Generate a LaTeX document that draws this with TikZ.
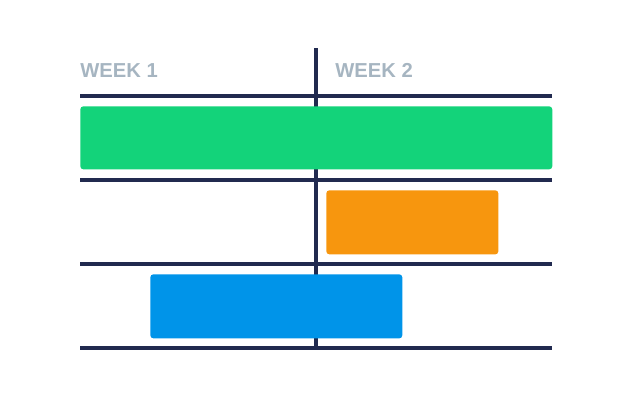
\documentclass[tikz,border=0pt]{standalone}
\usepackage{fontspec}
\setmainfont{Liberation Sans}
\definecolor{gridline}{HTML}{212A4F}
\definecolor{weektext}{HTML}{A6B5C1}
\definecolor{taskgreen}{HTML}{13D37A}
\definecolor{taskorange}{HTML}{F7960E}
\definecolor{taskblue}{HTML}{0094E9}
\tikzset{
  grid/.style={gridline, line width=2pt},
  week/.style={anchor=base west, inner sep=0pt, text=weektext, font=\bfseries\fontsize{11.5}{12}\selectfont},
  task/.style={anchor=north west, inner sep=0pt, rounded corners=1.7pt}
}

\begin{document}
\begin{tikzpicture}[x=0.02cm, y=-0.02cm]
\useasboundingbox (0,0) rectangle (630,400);
\coordinate (T) at (316,48);
\coordinate (B) at (316,348);
\coordinate (L1) at (80,96);   \coordinate (R1) at (552,96);
\coordinate (L2) at (80,180);  \coordinate (R2) at (552,180);
\coordinate (L3) at (80,264);  \coordinate (R3) at (552,264);
\coordinate (L4) at (80,348);  \coordinate (R4) at (552,348);
\node [week] (w1) at (80,77) {WEEK 1};
\node [week] (w2) at (335,77) {WEEK 2};
\draw [grid] (T) -- (B);
\draw [grid] (L1) -- (R1);
\draw [grid] (L2) -- (R2);
\draw [grid] (L3) -- (R3);
\draw [grid] (L4) -- (R4);
\node [task, fill=taskgreen, minimum width=9.44cm, minimum height=1.26cm] (green) at (80,106) {};
\node [task, fill=taskorange, minimum width=3.44cm, minimum height=1.28cm] (orange) at (326,190) {};
\node [task, fill=taskblue, minimum width=5.04cm, minimum height=1.28cm] (blue) at (150,274) {};
\end{tikzpicture}
\end{document}
